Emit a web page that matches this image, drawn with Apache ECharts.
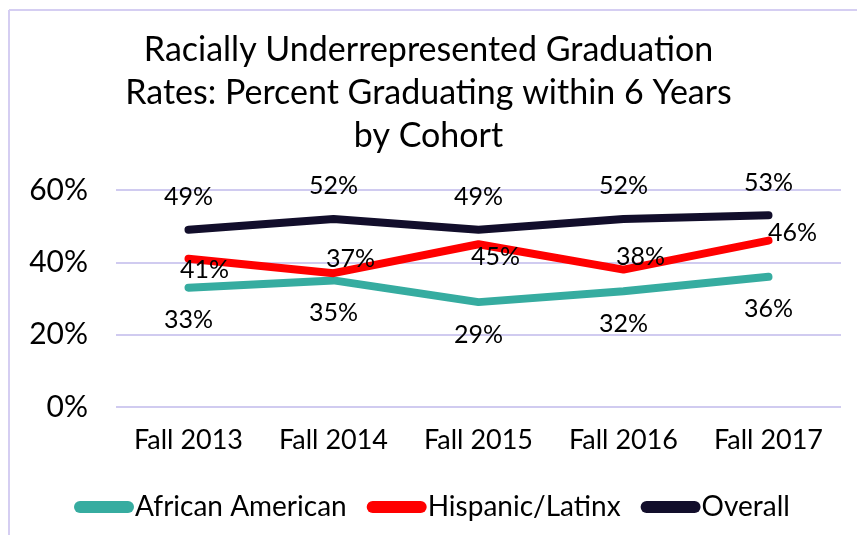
<!DOCTYPE html>
<html>
<head>
<meta charset="utf-8">
<script src="https://cdn.jsdelivr.net/npm/echarts@6/dist/echarts.min.js"></script>
<style>
  html, body { margin: 0; padding: 0; background: #fff; }
  #chart { width: 857px; height: 535px; }
</style>
</head>
<body>
<div id="chart"></div>
<script>
const cohorts = ['Fall 2013', 'Fall 2014', 'Fall 2015', 'Fall 2016', 'Fall 2017'];
const africanAmerican = [33, 35, 29, 32, 36];
const hispanicLatinx = [41, 37, 45, 38, 46];
const overall = [49, 52, 49, 52, 53];

// label nudges for the red series (the source places them by hand)
const hispOffsets = [[16, 11], [17, -14], [17, 13], [17, -13], [24, -8]];

const font = 'Lato';
const chart = echarts.init(document.getElementById('chart'));

const lineBase = (name, color, data) => ({
  name,
  type: 'line',
  data,
  symbol: 'circle',
  symbolSize: 0,
  showSymbol: true,
  itemStyle: { color },
  lineStyle: { color, width: 8, cap: 'round', join: 'round' },
  emphasis: { disabled: true },
  z: 3
});

chart.setOption({
  animation: false,
  title: {
    text: 'Racially Underrepresented Graduation\nRates: Percent Graduating within 6 Years\nby Cohort',
    left: 'center',
    top: 24,
    textStyle: { fontFamily: font, fontSize: 34, fontWeight: 'normal', color: '#000', lineHeight: 43 }
  },
  legend: {
    left: 69,
    top: 488,
    itemWidth: 60,
    itemHeight: 12,
    itemGap: 20,
    icon: 'path://M6,0 L54,0 A6,6 0 0 1 54,12 L6,12 A6,6 0 0 1 6,0 Z',
    textStyle: { fontFamily: font, fontSize: 28, color: '#000', padding: [0, 0, 0, -4] },
    data: ['African American', 'Hispanic/Latinx', 'Overall']
  },
  grid: { left: 116, right: 16, top: 190, bottom: 128 },
  xAxis: {
    type: 'category',
    data: cohorts,
    boundaryGap: true,
    axisLine: { show: false },
    axisTick: { show: false },
    axisLabel: { interval: 0, hideOverlap: false, fontFamily: font, fontSize: 27, color: '#000', margin: 20 }
  },
  yAxis: {
    type: 'value',
    min: 0,
    max: 60,
    interval: 20,
    axisLabel: { formatter: '{value}%', fontFamily: font, fontSize: 30, color: '#000', margin: 28 },
    splitLine: { lineStyle: { color: '#D0CBF0', width: 2 } }
  },
  graphic: [
    { type: 'line', shape: { x1: 9, y1: 10, x2: 9, y2: 535 }, style: { stroke: '#D5CEF2', lineWidth: 2 } },
    { type: 'line', shape: { x1: 9, y1: 10, x2: 857, y2: 10 }, style: { stroke: '#D5CEF2', lineWidth: 2 } }
  ],
  series: [
    Object.assign(lineBase('African American', '#36ACA0', africanAmerican), {
      label: { show: true, position: 'bottom', distance: 20, formatter: '{c}%', fontFamily: font, fontSize: 25, color: '#000' }
    }),
    Object.assign(lineBase('Hispanic/Latinx', '#FF0000', hispanicLatinx.map((v, i) => ({
      value: v,
      label: { offset: hispOffsets[i] }
    }))), {
      label: { show: true, position: 'inside', formatter: '{c}%', fontFamily: font, fontSize: 25, color: '#000' }
    }),
    Object.assign(lineBase('Overall', '#120E2B', overall), {
      label: { show: true, position: 'top', distance: 20, formatter: '{c}%', fontFamily: font, fontSize: 25, color: '#000' }
    })
  ]
});
</script>
</body>
</html>
